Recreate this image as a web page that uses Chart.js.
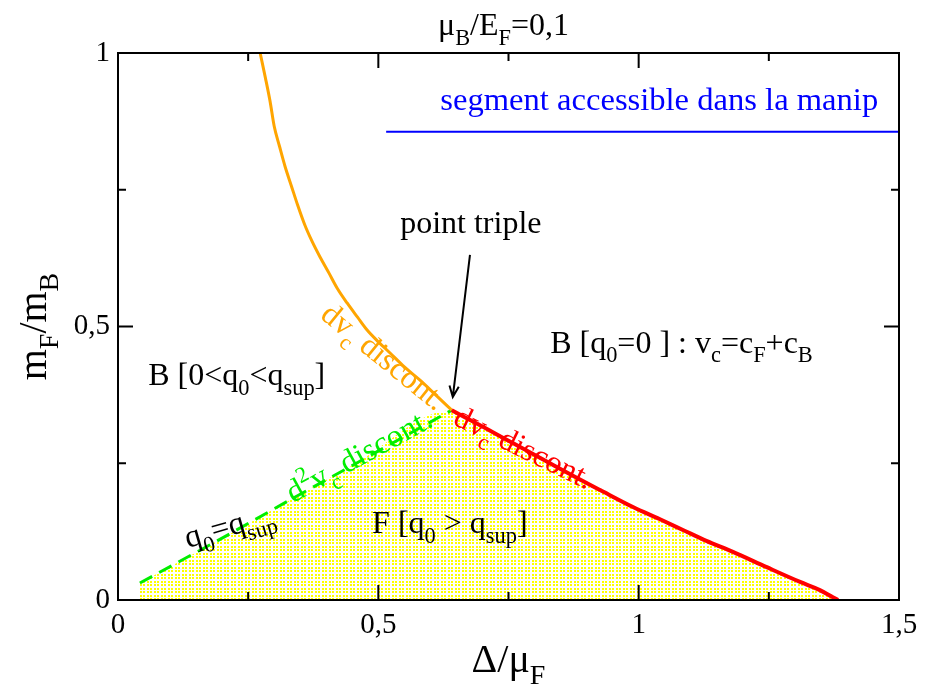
<!DOCTYPE html>
<html>
<head>
<meta charset="utf-8">
<script src="https://cdn.jsdelivr.net/npm/chart.js@4/dist/chart.umd.min.js"></script>
<style>
  html, body { margin: 0; background: #fff; }
  canvas { display: block; }
</style>
</head>
<body>
<canvas id="phase" width="938" height="690"></canvas>
<script>
// phase boundaries (x = Delta/mu_F, y = m_F/m_B)
const orangeX = [0.273, 0.283, 0.292, 0.300, 0.310, 0.321, 0.333, 0.345, 0.359, 0.373, 0.388, 0.405, 0.421, 0.440, 0.460, 0.478, 0.500, 0.522, 0.550, 0.580, 0.610, 0.641];
const orangeY = [1.000, 0.955, 0.912, 0.866, 0.830, 0.792, 0.757, 0.722, 0.685, 0.655, 0.627, 0.598, 0.570, 0.543, 0.517, 0.494, 0.472, 0.452, 0.426, 0.402, 0.375, 0.347];

const redX = [0.641, 0.700, 0.760, 0.820, 0.880, 0.926, 0.989, 1.040, 1.085, 1.130, 1.181, 1.246, 1.310, 1.348, 1.373, 1.383];
const redY = [0.347, 0.317, 0.286, 0.255, 0.224, 0.201, 0.170, 0.148, 0.128, 0.108, 0.088, 0.060, 0.033, 0.018, 0.005, 0.000];

const greenX = [0.042, 0.200, 0.321, 0.450, 0.641];
const greenY = [0.031, 0.113, 0.178, 0.246, 0.347];

const blueX = [0.515, 1.5];
const blueY = [0.856, 0.856];

const xTicks = [0, 0.25, 0.5, 0.75, 1, 1.25, 1.5];
const yTicks = [0, 0.25, 0.5, 0.75, 1];

const FONT = '"Liberation Serif", "DejaVu Serif", serif';
const GREEN = '#00ee00', ORANGE = '#ffa500', RED = '#ff0000', BLUE = '#0000ff';

const pts = (xs, ys) => xs.map((x, i) => ({ x, y: ys[i] }));
const isMajor = v => Math.abs(v * 2 - Math.round(v * 2)) < 1e-9;
const fmt = v => isMajor(v) ? String(v).replace('.', ',') : '';

// text with _{sub} and ^{sup}
function parseRich(s) {
  const out = [];
  let buf = '', i = 0;
  while (i < s.length) {
    const c = s[i];
    if ((c === '_' || c === '^') && s[i + 1] === '{') {
      if (buf) { out.push({ t: buf, m: 0 }); buf = ''; }
      const j = s.indexOf('}', i);
      out.push({ t: s.slice(i + 2, j), m: c === '_' ? 1 : 2 });
      i = j + 1;
    } else { buf += c; i++; }
  }
  if (buf) out.push({ t: buf, m: 0 });
  return out;
}

function drawRich(ctx, str, x, y, size, color, align, rot) {
  const parts = parseRich(str);
  ctx.save();
  ctx.translate(x, y);
  ctx.rotate((rot || 0) * Math.PI / 180);
  ctx.fillStyle = color || '#000';
  ctx.textAlign = 'left';
  ctx.textBaseline = 'alphabetic';
  let w = 0;
  parts.forEach(p => {
    ctx.font = (p.m ? size * 0.7 : size) + 'px ' + FONT;
    w += ctx.measureText(p.t).width;
  });
  let cx = align === 'right' ? -w : align === 'center' ? -w / 2 : 0;
  parts.forEach(p => {
    ctx.font = (p.m ? size * 0.7 : size) + 'px ' + FONT;
    const dy = p.m === 1 ? size * 0.3 : p.m === 2 ? -size * 0.42 : 0;
    ctx.fillText(p.t, cx, dy);
    cx += ctx.measureText(p.t).width;
  });
  ctx.restore();
}

const notes = [
  { s: 'segment accessible dans la manip', x: 1.460, y: 0.896, color: BLUE, align: 'right', size: 32.6 },
  { s: 'point triple', x: 0.542, y: 0.671 },
  { s: 'B [q_{0}=0 ] : v_{c}=c_{F}+c_{B}', x: 0.830, y: 0.452 },
  { s: 'B [0<q_{0}<q_{sup}]', x: 0.058, y: 0.393 },
  { s: 'F [q_{0} > q_{sup}]', x: 0.488, y: 0.122 },
  { s: 'q_{0}=q_{sup}', x: 0.134, y: 0.095, rot: -16 },
  { s: 'd^{2}v_{c} discont.', x: 0.336, y: 0.177, rot: -28.8, color: GREEN },
  { s: 'dv_{c} discont.', x: 0.386, y: 0.517, rot: 39, color: ORANGE },
  { s: 'dv_{c} discont.', x: 0.641, y: 0.322, rot: 26, color: RED }
];

const overlay = {
  id: 'overlay',
  afterDatasetsDraw(chart) {
    const { ctx, chartArea: a, scales: { x, y } } = chart;
    ctx.save();
    ctx.strokeStyle = '#000';
    ctx.lineWidth = 2;
    ctx.strokeRect(a.left, a.top, a.right - a.left, a.bottom - a.top);

    // ticks pointing inside, on all four sides
    ctx.beginPath();
    xTicks.forEach(v => {
      const px = x.getPixelForValue(v), len = isMajor(v) ? 15 : 8;
      ctx.moveTo(px, a.bottom); ctx.lineTo(px, a.bottom - len);
      ctx.moveTo(px, a.top); ctx.lineTo(px, a.top + len);
    });
    yTicks.forEach(v => {
      const py = y.getPixelForValue(v), len = isMajor(v) ? 15 : 8;
      ctx.moveTo(a.left, py); ctx.lineTo(a.left + len, py);
      ctx.moveTo(a.right, py); ctx.lineTo(a.right - len, py);
    });
    ctx.stroke();

    notes.forEach(n => drawRich(ctx, n.s, x.getPixelForValue(n.x), y.getPixelForValue(n.y), n.size || 32, n.color, n.align, n.rot));

    // arrow to the triple point
    const x0 = x.getPixelForValue(0.676), y0 = y.getPixelForValue(0.631);
    const x1 = x.getPixelForValue(0.643), y1 = y.getPixelForValue(0.371);
    const ang = Math.atan2(y1 - y0, x1 - x0);
    ctx.lineWidth = 2;
    ctx.beginPath();
    ctx.moveTo(x0, y0); ctx.lineTo(x1, y1);
    ctx.moveTo(x1 - 12 * Math.cos(ang - 0.4), y1 - 12 * Math.sin(ang - 0.4));
    ctx.lineTo(x1, y1);
    ctx.lineTo(x1 - 12 * Math.cos(ang + 0.4), y1 - 12 * Math.sin(ang + 0.4));
    ctx.stroke();

    const cx = (a.left + a.right) / 2, cy = (a.top + a.bottom) / 2;
    drawRich(ctx, 'μ_{B}/E_{F}=0,1', cx - 5, 35, 32, '#000', 'center');
    drawRich(ctx, 'Δ/μ_{F}', cx, 672, 40, '#000', 'center');
    drawRich(ctx, 'm_{F}/m_{B}', 46, cy, 40, '#000', 'center', -90);
    ctx.restore();
  }
};

const canvas = document.getElementById('phase');
const ctx = canvas.getContext('2d');

// dotted yellow fill of the F region (dots about every 3.5 px)
const pc = document.createElement('canvas');
pc.width = 7; pc.height = 7;
const pctx = pc.getContext('2d');
pctx.fillStyle = '#ffff00';
[[0, 0], [3, 0], [0, 3], [3, 3]].forEach(([dx, dy]) => pctx.fillRect(dx, dy, 2, 2));
const dots = ctx.createPattern(pc, 'repeat');

const line = (data, color, width, extra) => Object.assign({
  data, showLine: true, borderColor: color, borderWidth: width,
  pointRadius: 0, fill: false, tension: 0
}, extra || {});

// datasets are painted last-to-first, so the fill goes at the end (bottom layer)
new Chart(ctx, {
  type: 'scatter',
  data: {
    datasets: [
      line(pts(blueX, blueY), BLUE, 2),
      line(pts(redX, redY), RED, 4, { cubicInterpolationMode: 'monotone' }),
      line(pts(orangeX, orangeY), ORANGE, 3, { cubicInterpolationMode: 'monotone' }),
      line(pts(greenX, greenY), GREEN, 3, { borderDash: [14, 8] }),
      line(pts(greenX.concat(redX.slice(1)), greenY.concat(redY.slice(1))), 'rgba(0,0,0,0)', 0,
        { fill: 'origin', backgroundColor: dots, cubicInterpolationMode: 'monotone' })
    ]
  },
  options: {
    responsive: false,
    animation: false,
    layout: { padding: { top: 53, right: 39, left: 0, bottom: 0 } },
    plugins: { legend: { display: false }, tooltip: { enabled: false } },
    scales: {
      x: {
        type: 'linear', min: 0, max: 1.5,
        afterFit(s) { s.height = 90; },
        afterBuildTicks(s) { s.ticks = xTicks.map(v => ({ value: v })); },
        grid: { display: false, drawTicks: false },
        border: { display: false },
        ticks: { callback: fmt, font: { family: FONT, size: 29 }, color: '#000', padding: 8, maxRotation: 0, autoSkip: false }
      },
      y: {
        type: 'linear', min: 0, max: 1,
        afterFit(s) { s.width = 118; },
        afterBuildTicks(s) { s.ticks = yTicks.map(v => ({ value: v })); },
        grid: { display: false, drawTicks: false },
        border: { display: false },
        ticks: { callback: fmt, font: { family: FONT, size: 29 }, color: '#000', padding: 8, autoSkip: false }
      }
    }
  },
  plugins: [overlay]
});
</script>
</body>
</html>
